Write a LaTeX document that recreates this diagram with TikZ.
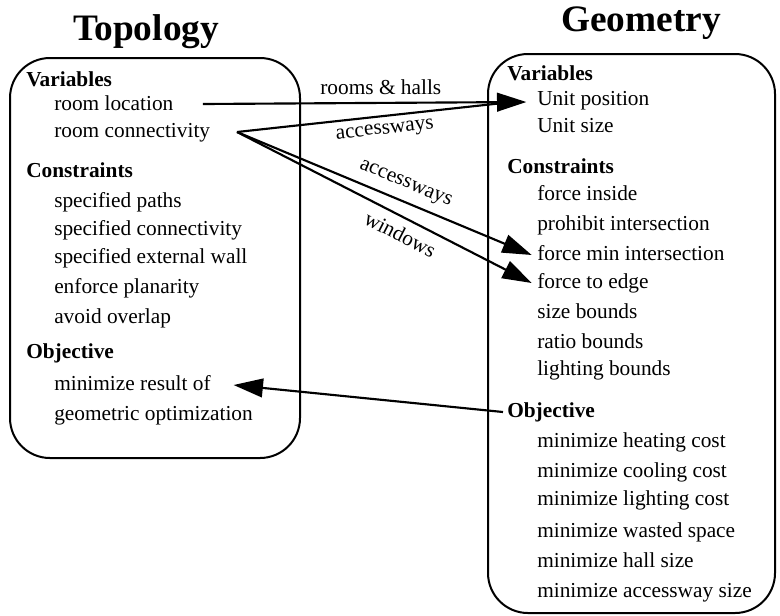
\documentclass[tikz,border=0pt]{standalone}
\usepackage{fontspec}
\setmainfont{Liberation Serif}
\usetikzlibrary{arrows.meta,positioning,fit}

\begin{document}
\begin{tikzpicture}[
  x=0.75pt, y=-0.75pt,
  every node/.style={inner sep=0pt},
  item/.style={anchor=west, font=\fontsize{16}{20}\selectfont, text height=11pt, text depth=3.5pt},
  head/.style={item, font=\fontsize{16}{20}\selectfont\bfseries},
  title/.style={font=\fontsize{28}{32}\selectfont\bfseries},
  panel/.style={draw, line width=1.5pt, rounded corners=30pt},
  link/.style={line width=1.6pt},
  flow/.style={link, -{Triangle[length=22pt, width=14pt]}},
  lbl/.style={font=\fontsize{16}{20}\selectfont, inner sep=2pt},
]
\useasboundingbox (0,0) rectangle (780,615);
% panels and titles
\node[panel, fit={(10,58) (300,458)}] (topo) {};
\node[panel, fit={(488,54) (775,613)}] (geom) {};
\node[title] (ttopo) at (146,32) {Topology};
\node[title] (tgeom) at (641,23) {Geometry};
% topology side
\node[head] (tvar) at (26,81) {Variables};
\node[item] (rloc) at (54,105) {room location};
\node[item] (rconn) at (54,132) {room connectivity};
\node[head] (tcon) at (26,172) {Constraints};
\node[item] (spath) at (54,202) {specified paths};
\node[item] (sconn) at (54,230) {specified connectivity};
\node[item] (swall) at (54,258) {specified external wall};
\node[item] (plan) at (54,288) {enforce planarity};
\node[item] (overl) at (54,318) {avoid overlap};
\node[head] (tobj) at (26,353) {Objective};
\node[item] (tres) at (54,385) {minimize result of};
\node[item] (tgeo) at (54,415) {geometric optimization};
% geometry side
\node[head] (gvar) at (507,75) {Variables};
\node[item] (upos) at (537,100) {Unit position};
\node[item] (usize) at (537,127) {Unit size};
\node[head] (gcon) at (507,168) {Constraints};
\node[item] (finside) at (537,195) {force inside};
\node[item] (proh) at (537,225) {prohibit intersection};
\node[item] (fmin) at (537,255) {force min intersection};
\node[item] (fedge) at (537,283) {force to edge};
\node[item] (sizeb) at (537,313) {size bounds};
\node[item] (ratiob) at (537,343) {ratio bounds};
\node[item] (lightb) at (537,370) {lighting bounds};
\node[head] (gobj) at (507,412) {Objective};
\node[item] (heat) at (537,442) {minimize heating cost};
\node[item] (cool) at (537,472) {minimize cooling cost};
\node[item] (lightc) at (537,500) {minimize lighting cost};
\node[item] (waste) at (537,532) {minimize wasted space};
\node[item] (hall) at (537,562) {minimize hall size};
\node[item] (accs) at (537,592) {minimize accessway size};
% mappings
\coordinate (fork) at ([xshift=20pt]rconn.east);
\draw[flow] ([xshift=22pt,yshift=0.75pt]rloc.east) -- node[lbl, above=3pt, pos=0.55] {rooms \& halls} ([xshift=-8pt,yshift=-1.5pt]upos.west);
\draw[link] (fork) -- node[lbl, below=3pt, sloped, pos=0.52] {accessways} ([xshift=-14pt,yshift=-1pt]upos.west);
\draw[flow] (fork) -- node[lbl, above=4pt, sloped, pos=0.55] {accessways} ([xshift=-4pt]fmin.west);
\draw[flow] (fork) -- node[lbl, below=4pt, sloped, pos=0.58] {windows} ([xshift=-4pt]fedge.west);
\draw[flow] ([xshift=-3pt]gobj.west) -- ([xshift=17pt]tres.east);
\end{tikzpicture}
\end{document}
